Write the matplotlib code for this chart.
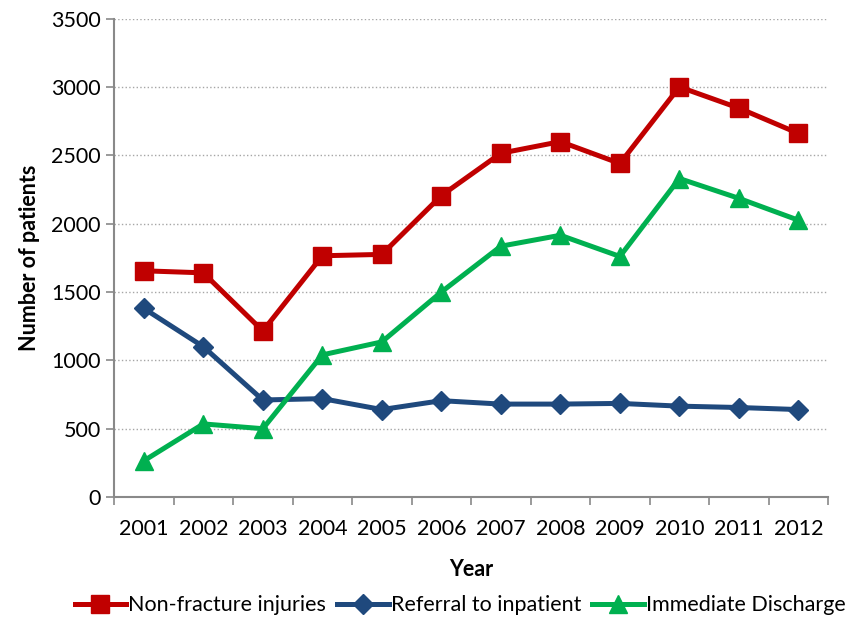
import matplotlib.pyplot as plt
import numpy as np

# data
years = ['2001', '2002', '2003', '2004', '2005', '2006',
         '2007', '2008', '2009', '2010', '2011', '2012']
non_fracture = [1655, 1640, 1215, 1765, 1775, 2205, 2515, 2600, 2440, 3000, 2845, 2660]
referral = [1380, 1100, 710, 720, 640, 705, 680, 680, 685, 665, 655, 640]
discharge = [265, 535, 500, 1040, 1135, 1500, 1835, 1915, 1760, 2330, 2185, 2025]

plt.rcParams['font.family'] = ['Lato', 'DejaVu Sans']

fig = plt.figure(figsize=(8.6, 6.19), dpi=100)
ax = fig.add_axes([0.1326, 0.197, 0.8304, 0.773])

x = np.arange(len(years))

ax.plot(x, non_fracture, color='#C00000', lw=3.6, marker='s', ms=12.5,
        label='Non-fracture injuries')
ax.plot(x, referral, color='#1F497D', lw=3.6, marker='D', ms=10,
        label='Referral to inpatient')
ax.plot(x, discharge, color='#00B050', lw=3.6, marker='^', ms=13,
        label='Immediate Discharge')

ax.set_xlim(-0.5, len(years) - 0.5)
ax.set_ylim(0, 3500)
ax.set_yticks(np.arange(0, 3501, 500))

# tick marks between categories, labels on categories
ax.set_xticks(np.arange(-0.5, len(years), 1.0))
ax.set_xticklabels([])
ax.set_xticks(x, minor=True)
ax.set_xticklabels(years, minor=True)
ax.tick_params(axis='x', which='major', length=6, width=1.2, color='#898989', direction='out')
ax.tick_params(axis='x', which='minor', length=0, pad=16, labelsize=15.5)
ax.tick_params(axis='y', length=6, width=1.2, color='#898989', direction='out', labelsize=15.5)

ax.grid(axis='y', color='#A6A6A6', linestyle=':', linewidth=1.0)
ax.set_axisbelow(True)

for s in ['top', 'right']:
    ax.spines[s].set_visible(False)
for s in ['left', 'bottom']:
    ax.spines[s].set_color('#898989')
    ax.spines[s].set_linewidth(1.5)

ax.set_xlabel('Year', fontsize=15.5, fontweight='bold', labelpad=14)
ax.set_ylabel('Number of patients', fontsize=15.5, fontweight='bold', labelpad=8)

fig.legend(loc='center', bbox_to_anchor=(0.535, 0.022), ncol=3, frameon=False,
           fontsize=15.5, handlelength=2.4, handletextpad=0.1, columnspacing=0.5)

fig.savefig('out.png', dpi=100)
